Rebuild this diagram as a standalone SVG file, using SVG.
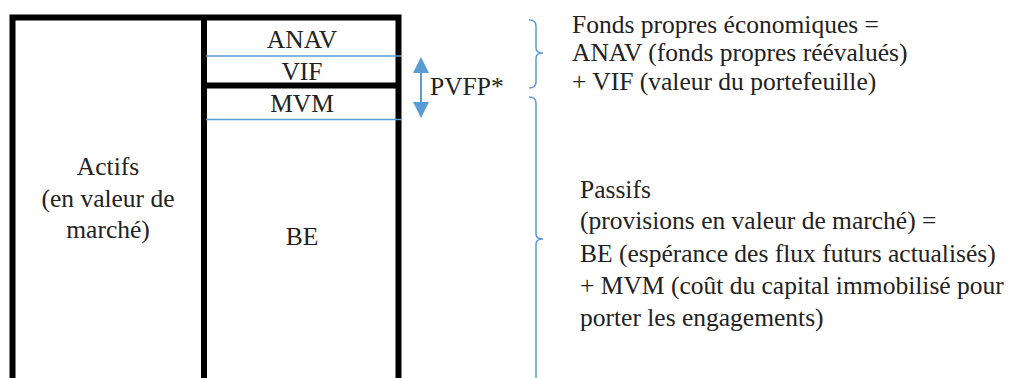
<svg xmlns="http://www.w3.org/2000/svg" width="1013" height="378" viewBox="0 0 1013 378">
<defs>
<style>
.thick{stroke:#000;stroke-width:6;fill:none;}
.blue{stroke:#5b9bd5;stroke-width:1.5;fill:none;}
</style>
</defs>
<rect width="1013" height="378" fill="#fff"/>
<g id="actifs">
<path class="thick" d="M12.5,378 V17.5 H398.5 V378"/>
<text font-family="Liberation Serif" font-size="30" fill="#222" text-anchor="middle" x="0" y="0" transform="translate(108,175) scale(0.85)">Actifs</text>
<text font-family="Liberation Serif" font-size="30" fill="#222" text-anchor="middle" x="0" y="0" transform="translate(108,207) scale(0.85)">(en valeur de</text>
<text font-family="Liberation Serif" font-size="30" fill="#222" text-anchor="middle" x="0" y="0" transform="translate(108,238) scale(0.85)">marché)</text>
</g>
<g id="passif-column">
<path class="thick" d="M204,17.5 V378"/>
<path class="thick" d="M204,85.5 H398.5"/>
</g>
<g id="anav"><text font-family="Liberation Serif" font-size="30" fill="#222" text-anchor="middle" x="0" y="0" transform="translate(302,48) scale(0.85)">ANAV</text></g>
<g id="vif"><text font-family="Liberation Serif" font-size="30" fill="#222" text-anchor="middle" x="0" y="0" transform="translate(302,80) scale(0.85)">VIF</text></g>
<g id="mvm"><text font-family="Liberation Serif" font-size="30" fill="#222" text-anchor="middle" x="0" y="0" transform="translate(302,112) scale(0.85)">MVM</text></g>
<g id="be"><text font-family="Liberation Serif" font-size="30" fill="#222" text-anchor="middle" x="0" y="0" transform="translate(302,245) scale(0.85)">BE</text></g>
<g id="connectors">
<line class="blue" x1="206" y1="56" x2="402" y2="56"/>
<line class="blue" x1="206" y1="119.5" x2="402" y2="119.5"/>
<line x1="421" y1="70" x2="421" y2="104" stroke="#5b9bd5" stroke-width="2"/>
<polygon points="421,57 413,73 429,73" fill="#5b9bd5"/>
<polygon points="421,118 413,102 429,102" fill="#5b9bd5"/>
<path class="blue" d="M529,20 Q536,20 536,26 V48 Q536,53 543,53 Q536,53 536,58 V82 Q536,88 529,88"/>
<path class="blue" d="M529,97 Q536,97 536,103 V234 Q536,239 543,239 Q536,239 536,244 V378"/>
</g>
<g id="pvfp"><text font-family="Liberation Serif" font-size="30" fill="#222" x="0" y="0" transform="translate(430,95) scale(0.85)">PVFP*</text></g>
<g id="fonds-propres">
<text font-family="Liberation Serif" font-size="30" fill="#222" x="0" y="0" transform="translate(572,33) scale(0.85)">Fonds propres économiques =</text>
<text font-family="Liberation Serif" font-size="30" fill="#222" x="0" y="0" transform="translate(572,61) scale(0.85)">ANAV (fonds propres réévalués)</text>
<text font-family="Liberation Serif" font-size="30" fill="#222" x="0" y="0" transform="translate(572,90) scale(0.85)">+ VIF (valeur du portefeuille)</text>
</g>
<g id="passifs">
<text font-family="Liberation Serif" font-size="30" fill="#222" x="0" y="0" transform="translate(580,198) scale(0.85)">Passifs</text>
<text font-family="Liberation Serif" font-size="30" fill="#222" x="0" y="0" transform="translate(580,229) scale(0.85)">(provisions en valeur de marché) =</text>
<text font-family="Liberation Serif" font-size="30" fill="#222" x="0" y="0" transform="translate(580,262) scale(0.85)">BE (espérance des flux futurs actualisés)</text>
<text font-family="Liberation Serif" font-size="30" fill="#222" x="0" y="0" transform="translate(580,294) scale(0.85)">+ MVM (coût du capital immobilisé pour</text>
<text font-family="Liberation Serif" font-size="30" fill="#222" x="0" y="0" transform="translate(580,326) scale(0.85)">porter les engagements)</text>
</g>
</svg>
